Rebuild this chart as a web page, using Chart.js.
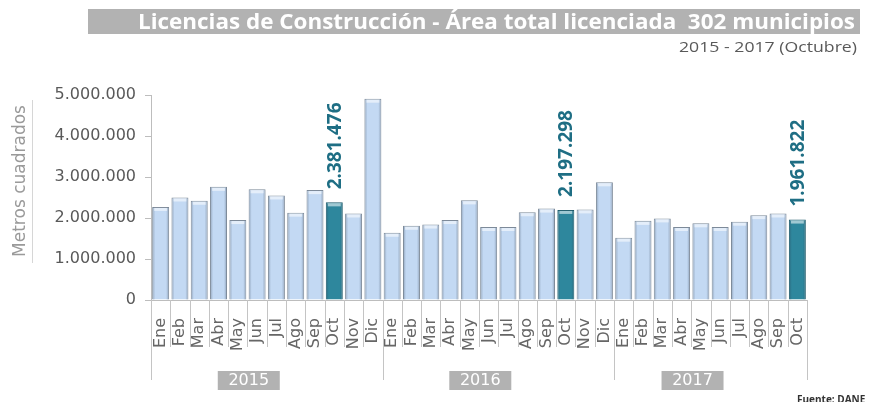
<!DOCTYPE html>
<html>
<head>
<meta charset="utf-8">
<script src="https://cdn.jsdelivr.net/npm/chart.js@4.4.0/dist/chart.umd.min.js"></script>
<style>
  html, body { margin: 0; padding: 0; background: #fff; }
  #wrap { width: 870px; height: 402px; }
</style>
</head>
<body>
<div id="wrap"><canvas id="myChart" width="870" height="402"></canvas></div>
<script>
const months = ['Ene', 'Feb', 'Mar', 'Abr', 'May', 'Jun', 'Jul', 'Ago', 'Sep', 'Oct', 'Nov', 'Dic'];
const years = ['2015', '2016', '2017'];
const values2015 = [2270000, 2500000, 2420000, 2760000, 1950000, 2700000, 2550000, 2130000, 2680000, 2381476, 2110000, 4910000];
const values2016 = [1640000, 1810000, 1840000, 1950000, 2430000, 1780000, 1780000, 2140000, 2230000, 2197298, 2210000, 2870000];
const values2017 = [1520000, 1930000, 1990000, 1780000, 1870000, 1780000, 1910000, 2070000, 2110000, 1961822];
const highlighted = [9, 21, 33];
const yTicks = [0, 1000000, 2000000, 3000000, 4000000, 5000000];

const labels = [...months, ...months, ...months.slice(0, 10)];
const values = [...values2015, ...values2016, ...values2017];
const groupSizes = [values2015.length, values2016.length, values2017.length];

const fmt = v => String(v).replace(/\B(?=(\d{3})+(?!\d))/g, '.');

function fitText(ctx, text, xRight, y, targetW) {
    const w = ctx.measureText(text).width;
    const sx = targetW / w;
    ctx.save();
    ctx.translate(xRight - targetW, y);
    ctx.scale(sx, 1);
    ctx.textAlign = 'left';
    ctx.fillText(text, 0, 0);
    ctx.restore();
}

const decor = {
    id: 'decor',
    beforeDraw(chart) {
        const ctx = chart.ctx;
        ctx.save();
        // title bar
        ctx.fillStyle = '#b2b2b2';
        ctx.fillRect(88, 9, 772, 25);
        ctx.fillStyle = '#ffffff';
        ctx.font = 'bold 21px "Open Sans"';
        ctx.textBaseline = 'alphabetic';
        fitText(ctx, 'Licencias de Construcción - Área total licenciada  302 municipios', 855, 29, 717);
        ctx.fillStyle = '#595959';
        ctx.font = '14px "Open Sans"';
        fitText(ctx, '2015 - 2017 (Octubre)', 857, 52, 178);

        // y axis title
        ctx.save();
        ctx.translate(21, 181);
        ctx.rotate(-Math.PI / 2);
        ctx.fillStyle = '#9a9a9a';
        ctx.font = '17px "DejaVu Sans"';
        ctx.textAlign = 'center';
        ctx.textBaseline = 'middle';
        ctx.fillText('Metros cuadrados', 0, 0);
        ctx.restore();
        ctx.strokeStyle = '#d6d6d6';
        ctx.lineWidth = 1;
        ctx.beginPath();
        ctx.moveTo(32.5, 100);
        ctx.lineTo(32.5, 263);
        ctx.stroke();

        ctx.fillStyle = '#333';
        ctx.font = 'bold 10px "Open Sans"';
        ctx.textAlign = 'left';
        ctx.fillText('Fuente: DANE', 797, 403);
        ctx.restore();
    },
    afterDatasetsDraw(chart) {
        // bevel shading on each bar
        const ctx = chart.ctx;
        const meta = chart.getDatasetMeta(0);
        ctx.save();
        meta.data.forEach((bar, i) => {
            const l = bar.x - bar.width / 2, r = bar.x + bar.width / 2;
            const t = bar.y, b = bar.base;
            const g = ctx.createLinearGradient(l, 0, r, 0);
            g.addColorStop(0, 'rgba(40,55,75,0.35)');
            g.addColorStop(0.18, 'rgba(40,55,75,0)');
            g.addColorStop(0.82, 'rgba(40,55,75,0)');
            g.addColorStop(1, 'rgba(40,55,75,0.35)');
            ctx.fillStyle = g;
            ctx.fillRect(l + 1, t + 1, r - l - 2, b - t - 1);
            ctx.fillStyle = 'rgba(255,255,255,0.55)';
            ctx.fillRect(l + 2, t + 1, r - l - 4, 3);
        });
        ctx.restore();
    },
    afterDraw(chart) {
        const ctx = chart.ctx;
        const xs = chart.scales.x;
        const area = chart.chartArea;
        const n = labels.length;
        const step = (xs.right - xs.left) / n;
        ctx.save();
        // category separators
        ctx.strokeStyle = '#c4c4c4';
        ctx.lineWidth = 1;
        const groupEdges = [0];
        groupSizes.reduce((acc, g) => { groupEdges.push(acc + g); return acc + g; }, 0);
        for (let i = 0; i <= n; i++) {
            const x = Math.round(xs.left + i * step) + 0.5;
            const bottom = groupEdges.includes(i) ? 380 : 347;
            ctx.beginPath();
            ctx.moveTo(x, area.bottom);
            ctx.lineTo(x, bottom);
            ctx.stroke();
        }
        // year boxes
        ctx.font = '16px "DejaVu Sans"';
        ctx.textAlign = 'center';
        ctx.textBaseline = 'middle';
        years.forEach((yr, k) => {
            const cx = xs.left + (groupEdges[k] + groupEdges[k + 1]) / 2 * step - 18;
            ctx.fillStyle = '#b2b2b2';
            ctx.fillRect(cx - 31, 371, 62, 19);
            ctx.fillStyle = '#ffffff';
            ctx.fillText(yr, cx, 381);
        });
        // value labels
        const meta = chart.getDatasetMeta(0);
        ctx.fillStyle = '#1e6e84';
        ctx.font = 'bold 19px "Open Sans"';
        ctx.textAlign = 'left';
        ctx.textBaseline = 'middle';
        highlighted.forEach(i => {
            const bar = meta.data[i];
            ctx.save();
            ctx.translate(bar.x, bar.y - 13);
            ctx.rotate(-Math.PI / 2);
            ctx.fillText(fmt(values[i]), 0, 1);
            ctx.restore();
        });
        ctx.restore();
    }
};

const config = {
    type: 'bar',
    data: {
        labels: labels,
        datasets: [{
            data: values,
            backgroundColor: values.map((v, i) => highlighted.includes(i) ? '#2e879d' : '#c3d9f3'),
            borderColor: values.map((v, i) => highlighted.includes(i) ? '#1d5a6a' : '#7d8a99'),
            borderWidth: 1,
            barPercentage: 0.88,
            categoryPercentage: 1
        }]
    },
    options: {
        responsive: false,
        animation: false,
        layout: { padding: { left: 0, right: 63, top: 95, bottom: 0 } },
        plugins: {
            legend: { display: false },
            tooltip: { enabled: false }
        },
        scales: {
            x: {
                afterFit: s => { s.height = 102; },
                grid: { display: false },
                border: { display: true, color: '#bdbdbd' },
                ticks: {
                    minRotation: 90,
                    maxRotation: 90,
                    autoSkip: false,
                    padding: 10,
                    color: '#666666',
                    font: { family: 'DejaVu Sans', size: 16 }
                }
            },
            y: {
                min: 0,
                max: 5000000,
                afterFit: s => { s.width = 151; },
                afterBuildTicks: s => { s.ticks = yTicks.map(v => ({ value: v })); },
                grid: { drawOnChartArea: false, tickLength: 6, color: '#bdbdbd' },
                border: { color: '#bdbdbd' },
                ticks: {
                    padding: 9,
                    color: '#595959',
                    font: { family: 'DejaVu Sans', size: 16 },
                    callback: v => fmt(v)
                }
            }
        }
    },
    plugins: [decor]
};

window.addEventListener('load', () => {
    const ctx = document.getElementById('myChart').getContext('2d');
    new Chart(ctx, config);
});
</script>
</body>
</html>
